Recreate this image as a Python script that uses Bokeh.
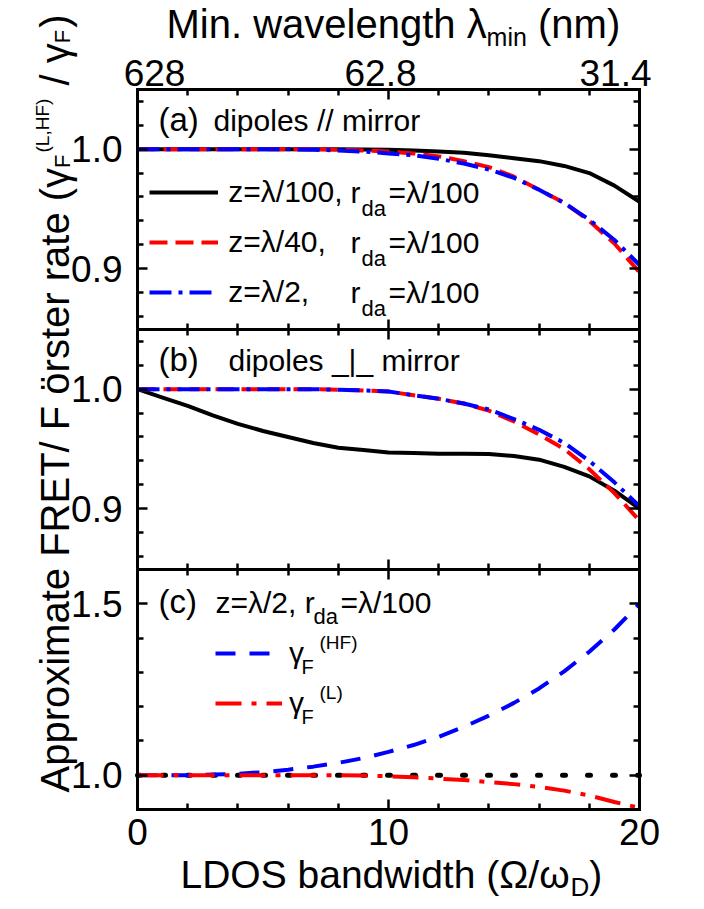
import math
from bokeh.plotting import figure
from bokeh.models import (Range1d, LinearAxis, FixedTicker, Label, Legend,
                          LegendItem, PrintfTickFormatter)
from bokeh.embed import file_html
from bokeh.resources import INLINE

# ---------------- data ----------------
x = [0, 1, 2, 3, 4, 5, 6, 7, 8, 9, 10, 11, 12, 13, 14, 15, 16, 17, 18, 19, 20]

# panel (a): dipoles parallel to mirror
a_z100 = [1.0, 1.0, 1.0, 1.0, 1.0, 1.0, 1.0, 1.0, 1.0, 0.9998, 0.9995, 0.999, 0.998,
          0.997, 0.995, 0.9925, 0.990, 0.986, 0.980, 0.9695, 0.956]
a_z40 = [1.0, 1.0, 1.0, 1.0, 1.0, 1.0, 1.0, 1.0, 0.9995, 0.999, 0.998, 0.9965, 0.994,
         0.990, 0.985, 0.977, 0.966, 0.955, 0.940, 0.921, 0.897]
a_z2 = [1.0, 1.0, 1.0, 1.0, 1.0, 1.0, 1.0, 0.9995, 0.999, 0.998, 0.9965, 0.995, 0.992,
        0.988, 0.983, 0.976, 0.966, 0.955, 0.941, 0.924, 0.903]

# panel (b): dipoles perpendicular to mirror
b_z100 = [1.0, 0.993, 0.986, 0.978, 0.971, 0.965, 0.960, 0.955, 0.951, 0.949, 0.947,
          0.9465, 0.946, 0.946, 0.9457, 0.944, 0.941, 0.935, 0.927, 0.915, 0.900]
b_z40 = [1.0, 1.0, 1.0, 1.0, 1.0, 1.0, 1.0, 1.0, 0.9995, 0.999, 0.998, 0.995, 0.992,
         0.988, 0.982, 0.973, 0.962, 0.950, 0.933, 0.913, 0.890]
b_z2 = [1.0, 1.0, 1.0, 1.0, 1.0, 1.0, 1.0, 1.0, 0.9995, 0.999, 0.998, 0.995, 0.992,
        0.988, 0.983, 0.975, 0.966, 0.955, 0.940, 0.922, 0.902]

# panel (c): z = lambda/2, r_da = lambda/100
c_hf = [1.0, 1.0, 1.0, 1.002, 1.004, 1.009, 1.016, 1.025, 1.036, 1.050, 1.068, 1.088,
        1.112, 1.141, 1.174, 1.211, 1.253, 1.303, 1.360, 1.425, 1.500]
c_l = [1.0, 1.0, 1.0, 1.0, 1.0, 1.0, 1.0, 1.0, 1.0, 0.999, 0.997, 0.994, 0.990, 0.986,
       0.980, 0.974, 0.966, 0.955, 0.941, 0.922, 0.905]
ref_x = [0, 20]
ref_y = [1.0, 1.0]

# ticks
x_major = [0, 10, 20]
x_minor = [2, 4, 6, 8, 12, 14, 16, 18]
top_tick_labels = ["628", "62.8", "31.4"]
ab_major = [0.9, 1.0]
ab_minor = [0.86, 0.88, 0.92, 0.94, 0.96, 0.98, 1.02, 1.04]
c_major = [1.0, 1.5]
c_minor = [1.1, 1.2, 1.3, 1.4]

# ---------------- layout constants (pixels, top-left origin) ----------------
FONT = "Liberation Sans"
W, H = 700, 905
FL, FR = 137, 639          # frame left / right of the panels
FH = 240                   # panel height
TOPS = {"a": 89, "b": 329, "c": 569}
RANGES = {"a": (0.849, 1.05), "b": (0.849, 1.05), "c": (0.9, 1.6)}
XMIN, XMAX = 0, 20
MID = 0.34                 # baseline -> middle offset (fraction of font size)

AW = {' ': .278, '(': .333, ')': .333, ',': .278, '.': .278, '/': .278, '=': .584,
      '_': .556, '|': .26, 'A': .667, 'D': .722, 'E': .667, 'F': .611, 'H': .722,
      'L': .556, 'M': .833, 'O': .778, 'R': .722, 'S': .667, 'T': .611, 'a': .556,
      'b': .556, 'd': .556, 'e': .556, 'g': .556, 'h': .556, 'i': .222, 'l': .222,
      'm': .833, 'n': .556, 'o': .556, 'p': .556, 'r': .333, 's': .5, 't': .278,
      'v': .5, 'w': .722, 'x': .5, 'z': .5, 'ö': .556, 'λ': .5, 'γ': .5, 'Ω': .768,
      'ω': .781}


def tw(s, size):
    return sum(AW.get(c, .556) for c in s) * size


# one canvas; default ranges are pixel coordinates (y downward) for the texts,
# extra ranges hold the data scales of the three stacked panels
p = figure(width=W, height=H, x_range=Range1d(0, W), y_range=Range1d(H, 0),
           output_backend="svg", toolbar_location=None,
           x_axis_location=None, y_axis_location=None, min_border=0)
p.grid.visible = False
p.outline_line_color = None
p.background_fill_color = "white"
p.border_fill_color = "white"

kx = (XMAX - XMIN) / (FR - FL)
p.extra_x_ranges = {"x": Range1d(XMIN - FL * kx, XMIN + (W - FL) * kx)}
yr = {}
for name, (lo, hi) in RANGES.items():
    k = (hi - lo) / FH
    top = TOPS[name]
    bot = top + FH
    yr[name] = Range1d(lo - (H - bot) * k, hi + top * k)
p.extra_y_ranges = yr

fmt1 = PrintfTickFormatter(format="%.1f")


def add_axis(side, panel, ticks, minor, fixed, show=False, standoff=0, fmt=None):
    lo, hi = RANGES[panel]
    bounds = (lo, hi) if side in ("left", "right") else (XMIN, XMAX)
    ax = LinearAxis(x_range_name="x", y_range_name=panel,
                    ticker=FixedTicker(ticks=ticks, minor_ticks=minor),
                    fixed_location=fixed, bounds=bounds)
    ax.axis_line_width = 3
    ax.axis_line_color = "black"
    ax.axis_line_cap = "square"
    ax.major_tick_in = 10
    ax.major_tick_out = 0
    ax.minor_tick_in = 6
    ax.minor_tick_out = 0
    ax.major_tick_line_width = 2.5
    ax.minor_tick_line_width = 2.5
    ax.major_tick_line_color = "black"
    ax.minor_tick_line_color = "black"
    if show:
        ax.major_label_text_font = FONT
        ax.major_label_text_font_size = "37px"
        ax.major_label_text_color = "black"
        ax.major_label_standoff = standoff
        if fmt is not None:
            ax.formatter = fmt
    else:
        ax.major_label_text_font_size = "0px"
        ax.major_label_standoff = 0
        ax.major_label_text_alpha = 0
    p.add_layout(ax, side)


for name in ("a", "b", "c"):
    lo, hi = RANGES[name]
    maj, mnr = (c_major, c_minor) if name == "c" else (ab_major, ab_minor)
    add_axis("left", name, maj, mnr, XMIN, show=True, standoff=15, fmt=fmt1)
    add_axis("right", name, maj, mnr, XMAX)
    add_axis("above", name, x_major, x_minor, hi)
    add_axis("below", name, x_major, x_minor, lo, show=(name == "c"), standoff=9)


def lab(text, px, base_y, size, align="left", **kw):
    """Text whose alphabetic baseline should sit at base_y (pixels)."""
    p.add_layout(Label(x=px, y=base_y - MID * size, text=text, text_font=FONT,
                       text_font_size=f"{size}px", text_color="black",
                       text_align=align, text_baseline="middle", **kw))


LW = 4
# ---------------- panel (a) ----------------
rA1 = p.line(x, a_z100, x_range_name="x", y_range_name="a",
             line_color="black", line_width=LW, line_join="round")
rA2 = p.line(x, a_z40, x_range_name="x", y_range_name="a",
             line_color="#ff0000", line_width=LW, line_dash="18 8")
rA3 = p.line(x, a_z2, x_range_name="x", y_range_name="a",
             line_color="#0000ff", line_width=LW, line_dash="22 7 4 7")

rowsA = [191.7, 241.7, 291.7]
legA = Legend(items=[LegendItem(label="z=λ/100,", renderers=[rA1]),
                     LegendItem(label="z=λ/40,", renderers=[rA2]),
                     LegendItem(label="z=λ/2,", renderers=[rA3])],
              location=(149.3, H - (rowsA[0] + 25 + 100)),
              glyph_width=69, glyph_height=50, label_height=50, label_standoff=10,
              spacing=0, padding=0, margin=0, border_line_color=None,
              background_fill_alpha=0, label_text_font=FONT,
              label_text_font_size="30px", label_text_color="black")
p.add_layout(legA)
for cy in rowsA:
    p.add_layout(Label(x=350, y=cy, text="r", text_font=FONT, text_font_size="30px",
                       text_color="black", text_baseline="middle"))
    lab("da", 361, cy + 24, 22)
    p.add_layout(Label(x=388, y=cy, text="=λ/100", text_font=FONT,
                       text_font_size="30px", text_color="black",
                       text_baseline="middle"))

lab("(a)", 158, 130, 33)
lab("dipoles // mirror", 213, 130, 30)

# top (wavelength) tick labels and title
top_shift = [17, -8, -24]
for xv, t, sh in zip(x_major, top_tick_labels, top_shift):
    p.add_layout(Label(x=xv, y=85 - MID * 37, x_range_name="x", x_offset=sh, text=t,
                       text_font=FONT, text_font_size="37px", text_color="black",
                       text_align="center", text_baseline="middle"))
t1 = "Min. wavelength λ"
x0 = 166
lab(t1, x0, 37, 40)
x1 = x0 + tw(t1, 40)
lab("min", x1, 45, 25)
x2 = x1 + tw("min", 25) + tw(" ", 40)
lab("(nm)", x2, 37, 40)

# ---------------- panel (b) ----------------
p.line(x, b_z100, x_range_name="x", y_range_name="b", line_color="black",
       line_width=LW, line_join="round")
p.line(x, b_z40, x_range_name="x", y_range_name="b", line_color="#ff0000",
       line_width=LW, line_dash="18 8")
p.line(x, b_z2, x_range_name="x", y_range_name="b", line_color="#0000ff",
       line_width=LW, line_dash="22 7 4 7")

lab("(b)", 158, 370, 33)
lab("dipoles _|_ mirror", 228, 370, 30)

# ---------------- panel (c) ----------------
p.line(ref_x, ref_y, x_range_name="x", y_range_name="c", line_color="black",
       line_width=5, line_dash="3 22", line_cap="round")
rC1 = p.line(x, c_hf, x_range_name="x", y_range_name="c", line_color="#0000ff",
             line_width=LW, line_dash="20 14")
rC2 = p.line(x, c_l, x_range_name="x", y_range_name="c", line_color="#ff0000",
             line_width=LW, line_dash="26 10 5 10")

rowsC = [653, 703]
legC = Legend(items=[LegendItem(label="γ", renderers=[rC1]),
                     LegendItem(label="γ", renderers=[rC2])],
              location=(215, H - (rowsC[0] + 25 + 50)),
              glyph_width=67, glyph_height=50, label_height=50, label_standoff=7,
              spacing=0, padding=0, margin=0, border_line_color=None,
              background_fill_alpha=0, label_text_font=FONT,
              label_text_font_size="30px", label_text_color="black")
p.add_layout(legC)
for cy, sup in zip(rowsC, ("(HF)", "(L)")):
    lab("F", 301, cy + 20, 20)
    lab(sup, 319, cy - 5, 19)

lab("(c)", 158, 612, 33)
lab("z=λ/2, r", 215, 612, 30)
lab("da", 313, 623, 22)
lab("=λ/100", 340, 612, 30)

# bottom title
b1 = "LDOS bandwidth (Ω/ω"
bx = 180
lab(b1, bx, 887, 39)
bx2 = bx + tw(b1, 39)
lab("D", bx2, 895, 26)
lab(")", bx2 + tw("D", 26), 887, 39)

# ---------------- rotated y title ----------------
def rlab(text, base_x, py, size):
    p.add_layout(Label(x=base_x, y=py, text=text, text_font=FONT,
                       text_font_size=f"{size}px", text_color="black",
                       text_align="left", text_baseline="alphabetic",
                       angle=math.pi / 2))


base_x = 54
yy = 792
parts = [("Approximate FRET/ F örster rate (γ", 40, 0, 0),
         ("F", 22, 8, 2),
         ("(L,HF)", 19, -12, 2),
         ("/ γ", 40, 0, 0),
         ("F", 22, 8, 2),
         (")", 40, 0, 0)]
for text, size, dx, gap in parts:
    if text.startswith("/"):
        yy -= tw(" ", size)
    rlab(text, base_x + dx, yy, size)
    yy -= tw(text, size) + gap

open("out.html", "w").write(file_html(p, INLINE))
